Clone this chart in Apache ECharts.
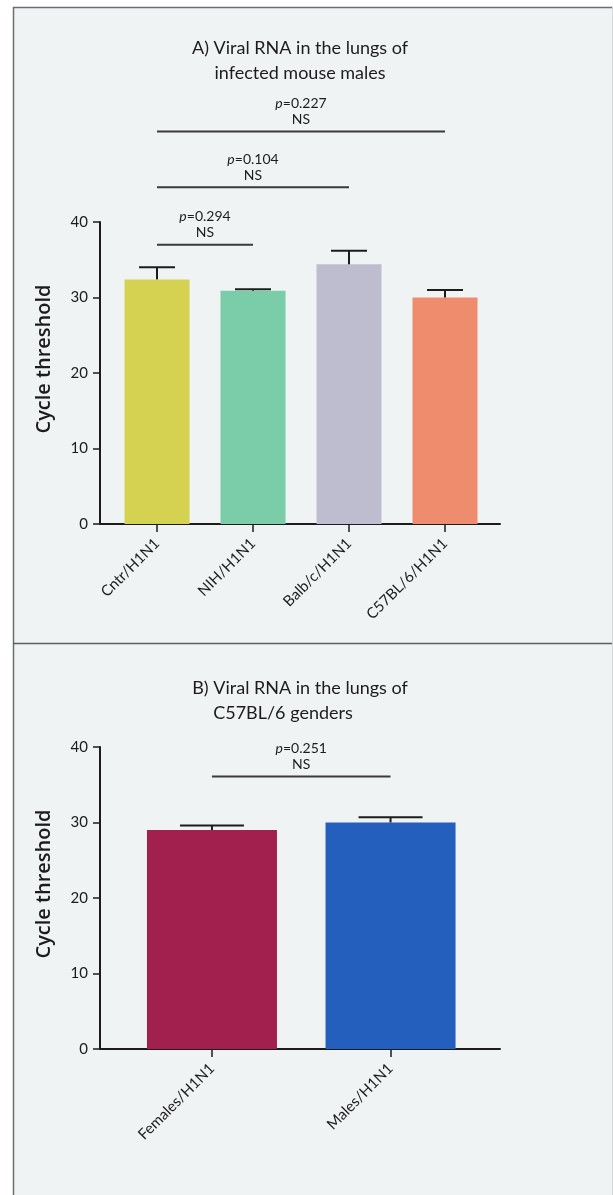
<!DOCTYPE html>
<html>
<head>
<meta charset="utf-8">
<script src="https://cdn.jsdelivr.net/npm/echarts@6/dist/echarts.min.js"></script>
<style>
  html, body { margin: 0; padding: 0; background: #ffffff; }
  #chart { width: 613px; height: 1195px; }
</style>
</head>
<body>
<div id="chart"></div>
<script>
// Panel A: viral RNA (Ct) in lungs of infected male mice, by strain
const groupsA = ['Cntr/H1N1', 'NIH/H1N1', 'Balb/c/H1N1', 'C57BL/6/H1N1'];
const meansA = [32.4, 30.9, 34.4, 30.0];
const errA = [1.6, 0.2, 1.8, 1.0];
const pairsA = [[0, 1], [0, 2], [0, 3]];
const sigLevelsA = [37, 44.6, 52];
const pValuesA = ['0.294', '0.104', '0.227'];

// Panel B: viral RNA (Ct) in lungs of C57BL/6 mice, by sex
const groupsB = ['Females/H1N1', 'Males/H1N1'];
const meansB = [29.0, 30.0];
const errB = [0.6, 0.7];
const pairsB = [[0, 1]];
const sigLevelsB = [36.1];
const pValuesB = ['0.251'];

const yTicks = [0, 10, 20, 30, 40];

const colorsA = ['#d6d251', '#7bcca8', '#bebdd0', '#ef8c6e'];
const colorsB = ['#a2204d', '#255fbd'];

const FONT = 'Lato';
const NAME_FONT = 'Open Sans';
const INK = '#1c1c1c';

function barData(means, colors) {
  return means.map((v, i) => ({ value: [i, v], itemStyle: { color: colors[i] } }));
}
function errData(means, errs) {
  return means.map((v, i) => [i, v, v + errs[i]]);
}
function sigData(pairs, levels) {
  return pairs.map((p, i) => [p[0], levels[i], p[1]]);
}

function errorRenderer(capW) {
  return function (params, api) {
    const x = api.value(0), m = api.value(1), h = api.value(2);
    const base = api.coord([x, m]);
    const top = api.coord([x, h]);
    const st = { stroke: INK, lineWidth: 2 };
    return {
      type: 'group',
      children: [
        { type: 'line', shape: { x1: base[0], y1: base[1], x2: top[0], y2: top[1] }, style: st },
        { type: 'line', shape: { x1: top[0] - capW / 2, y1: top[1], x2: top[0] + capW / 2, y2: top[1] }, style: st }
      ]
    };
  };
}

function sigRenderer(pValues) {
  return function (params, api) {
    const a = api.coord([api.value(0), api.value(1)]);
    const b = api.coord([api.value(2), api.value(1)]);
    const cx = (a[0] + b[0]) / 2;
    return {
      type: 'group',
      children: [
        { type: 'line', shape: { x1: a[0], y1: a[1], x2: b[0], y2: b[1] },
          style: { stroke: '#3a3a3a', lineWidth: 2 } },
        { type: 'text', x: cx, y: a[1] - 4,
          style: {
            text: '{i|p}=' + pValues[params.dataIndex] + '\nNS',
            align: 'center', verticalAlign: 'bottom',
            fontFamily: FONT, fontSize: 14, lineHeight: 16, fill: INK,
            rich: { i: { fontStyle: 'italic', fontFamily: FONT, fontSize: 14, lineHeight: 16, fill: INK } }
          } }
      ]
    };
  };
}

function xAxisFor(gridIndex, names, min, max) {
  const idx = names.map((_, i) => i);
  return {
    gridIndex, type: 'value', min, max,
    splitLine: { show: false },
    axisLine: { show: true, onZero: false, lineStyle: { color: INK, width: 2 } },
    axisTick: { show: true, customValues: idx, length: 8, lineStyle: { color: INK, width: 1.5 } },
    axisLabel: {
      customValues: idx, rotate: 45, margin: 17,
      fontFamily: FONT, fontSize: 15, color: INK,
      formatter: v => names[Math.round(v)]
    }
  };
}

function yAxisFor(gridIndex) {
  return {
    gridIndex, type: 'value', min: yTicks[0], max: yTicks[yTicks.length - 1], interval: 10,
    name: 'Cycle threshold', nameLocation: 'middle', nameGap: 46,
    nameTextStyle: { fontFamily: NAME_FONT, fontSize: 20, fontWeight: 600, color: INK, padding: [0, 0, 0, 28] },
    splitLine: { show: false },
    axisLine: { show: true, onZero: false, lineStyle: { color: INK, width: 2 } },
    axisTick: { show: true, length: 7, lineStyle: { color: INK, width: 1.5 } },
    axisLabel: { margin: 12, fontFamily: FONT, fontSize: 15, color: INK }
  };
}

function titleStyle() {
  return { fontFamily: FONT, fontSize: 18, fontWeight: 'normal', color: INK, lineHeight: 25, align: 'center' };
}

const chart = echarts.init(document.getElementById('chart'), null, { renderer: 'canvas' });

chart.setOption({
  backgroundColor: '#ffffff',
  animation: false,
  graphic: [
    { type: 'rect', z: -10, shape: { x: 13, y: 7, width: 600, height: 1188 }, style: { fill: '#eff3f4' } },
    { type: 'line', z: -9, shape: { x1: 13, y1: 7.5, x2: 613, y2: 7.5 }, style: { stroke: '#6e6e6e', lineWidth: 1.5 } },
    { type: 'line', z: -9, shape: { x1: 13.5, y1: 7, x2: 13.5, y2: 1195 }, style: { stroke: '#6e6e6e', lineWidth: 1.5 } },
    { type: 'line', z: -9, shape: { x1: 13, y1: 643.5, x2: 613, y2: 643.5 }, style: { stroke: '#5e5e5e', lineWidth: 1.5 } },
    { type: 'line', z: -9, shape: { x1: 612.5, y1: 7, x2: 612.5, y2: 1195 }, style: { stroke: '#d4d8da', lineWidth: 1 } }
  ],
  title: [
    { text: 'A) Viral RNA in the lungs of\ninfected mouse males', left: 300, top: 36, padding: 0, textAlign: 'center',
      textStyle: titleStyle() },
    { text: 'B) Viral RNA in the lungs of', left: 300, top: 676, padding: 0, textAlign: 'center',
      textStyle: titleStyle() },
    { text: 'C57BL/6 genders', left: 283, top: 701, padding: 0, textAlign: 'center',
      textStyle: titleStyle() }
  ],
  grid: [
    { left: 100, top: 222, width: 400, height: 302 },
    { left: 100, top: 747, width: 400, height: 302 }
  ],
  xAxis: [
    xAxisFor(0, groupsA, -0.594, 3.573),
    xAxisFor(1, groupsB, -0.627, 1.613)
  ],
  yAxis: [yAxisFor(0), yAxisFor(1)],
  series: [
    { type: 'bar', xAxisIndex: 0, yAxisIndex: 0, barWidth: 65, data: barData(meansA, colorsA), z: 2 },
    { type: 'custom', xAxisIndex: 0, yAxisIndex: 0, renderItem: errorRenderer(36),
      data: errData(meansA, errA), encode: { x: 0, y: [1, 2] }, z: 3 },
    { type: 'custom', xAxisIndex: 0, yAxisIndex: 0, renderItem: sigRenderer(pValuesA), clip: false,
      data: sigData(pairsA, sigLevelsA), encode: { x: [0, 2], y: 1 }, z: 3 },

    { type: 'bar', xAxisIndex: 1, yAxisIndex: 1, barWidth: 130, data: barData(meansB, colorsB), z: 2 },
    { type: 'custom', xAxisIndex: 1, yAxisIndex: 1, renderItem: errorRenderer(64),
      data: errData(meansB, errB), encode: { x: 0, y: [1, 2] }, z: 3 },
    { type: 'custom', xAxisIndex: 1, yAxisIndex: 1, renderItem: sigRenderer(pValuesB), clip: false,
      data: sigData(pairsB, sigLevelsB), encode: { x: [0, 2], y: 1 }, z: 3 }
  ]
});
</script>
</body>
</html>
